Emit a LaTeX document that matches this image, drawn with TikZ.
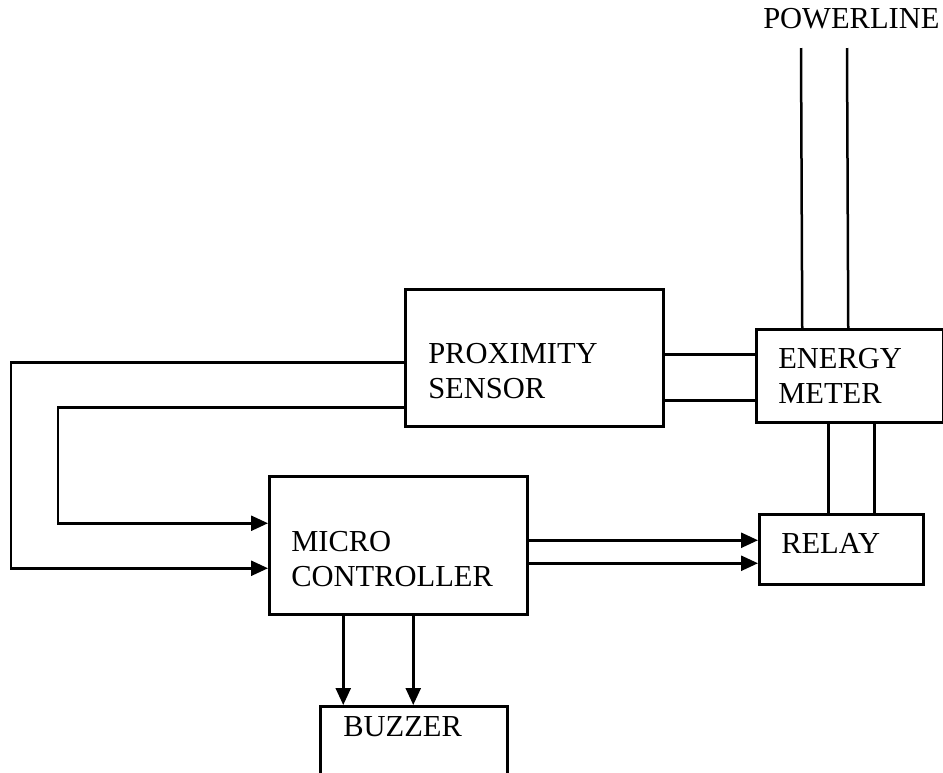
\documentclass[tikz,border=0pt]{standalone}
\usepackage{fontspec}
\setmainfont{Liberation Serif}
\usepackage{tikz}
\usetikzlibrary{arrows.meta, positioning, calc}

\begin{document}
\begin{tikzpicture}[x=1pt, y=-1pt, line width=2.5pt,
  block/.style={draw, inner sep=0pt, anchor=north west},
  lbl/.style={font=\fontsize{30.5}{35}\selectfont, inner sep=0pt, align=left, anchor=north west},
  arr/.style={-{Triangle[length=17pt, width=15pt]}}]
\useasboundingbox (0,0) rectangle (943,772);

% boxes
\node[block, minimum width=258pt, minimum height=137pt] (prox) at (404,288) {};
\node[block, minimum width=187pt, minimum height=93pt] (energy) at (755,328) {};
\node[block, minimum width=258pt, minimum height=138pt] (micro) at (268,475) {};
\node[block, minimum width=164pt, minimum height=70pt] (relay) at (758,513) {};
\node[block, minimum width=187pt, minimum height=75pt] (buzzer) at (319,705) {};

% labels
\node[lbl] (proxlbl) at (427,342) {PROXIMITY\\SENSOR};
\node[lbl] (energylbl) at (777,347) {ENERGY\\METER};
\node[lbl] (microlbl) at (290,530) {MICRO\\CONTROLLER};
\node[lbl] (relaylbl) at (780,532) {RELAY};
\node[lbl] (buzzerlbl) at (342,715) {BUZZER};
\node[lbl] (powerlbl) at (762,7) {POWERLINE};

% powerline into meter
\coordinate (pl1) at (801,48);
\coordinate (pl2) at (847,48);
\draw (pl1) -- ([xshift=-47.5pt]energy.north);
\draw (pl2) -- ([xshift=-1.5pt]energy.north);

% sensor to meter
\draw ([yshift=3.5pt]prox.east) -- ([yshift=21.5pt]energy.west);
\draw ([yshift=-42.5pt]prox.east) -- ([yshift=-24.5pt]energy.west);

% meter to relay
\draw ([xshift=-21.5pt]energy.south) -- ([xshift=-13pt]relay.north);
\draw ([xshift=24.5pt]energy.south) -- ([xshift=33pt]relay.north);

% sensor back to controller
\draw[arr] ([yshift=-4.5pt]prox.west) -- ++(-393,0) |- ([yshift=-23pt]micro.west);
\draw[arr] ([yshift=-49.5pt]prox.west) -- ++(-346,0) |- ([yshift=22pt]micro.west);

% controller to relay and buzzer
\draw[arr] ([yshift=5pt]micro.east) -- ([yshift=9pt]relay.west);
\draw[arr] ([yshift=-18pt]micro.east) -- ([yshift=-14pt]relay.west);
\draw[arr] ([xshift=-55pt]micro.south) -- ([xshift=-70.5pt]buzzer.north);
\draw[arr] ([xshift=15pt]micro.south) -- ([xshift=-0.5pt]buzzer.north);

\end{tikzpicture}
\end{document}
